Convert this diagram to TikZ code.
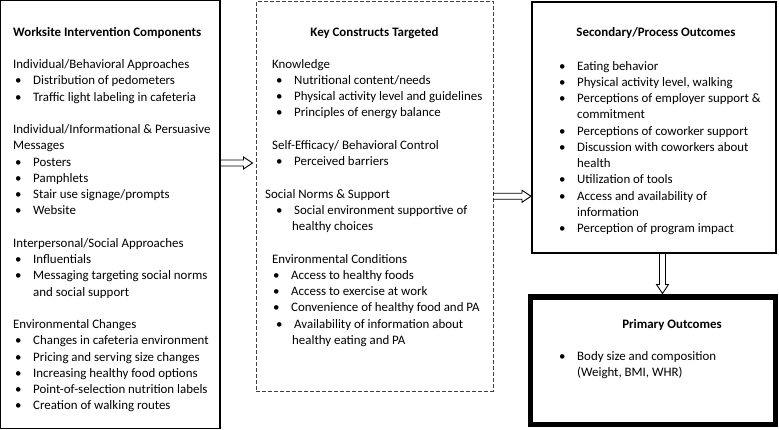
\documentclass[tikz,border=0pt]{standalone}
\usepackage{fontspec}
\setmainfont{Carlito}
\usetikzlibrary{calc}

\newcommand{\bul}{\makebox[18pt][l]{\textbullet}}

\tikzset{
  box/.style={draw, line width=1.1pt, inner sep=0pt, outer sep=0pt, anchor=north west},
  txt/.style={align=left, inner sep=0pt, anchor=base west, font=\fontsize{12.9}{16.25}\selectfont},
  head/.style={inner sep=0pt, anchor=base, font=\fontsize{12.9}{16.25}\selectfont\bfseries},
  harrow/.style={line width=0.9pt, to path={
      ($(\tikztostart)+(0,3pt)$) -- ($(\tikztotarget)+(-9pt,3pt)$) -- ($(\tikztotarget)+(-9pt,6pt)$)
      -- (\tikztotarget) -- ($(\tikztotarget)+(-9pt,-6pt)$) -- ($(\tikztotarget)+(-9pt,-3pt)$)
      -- ($(\tikztostart)+(0,-3pt)$)}},
  varrow/.style={line width=0.9pt, to path={
      ($(\tikztostart)+(-3pt,0)$) -- ($(\tikztotarget)+(-3pt,9pt)$) -- ($(\tikztotarget)+(-6pt,9pt)$)
      -- (\tikztotarget) -- ($(\tikztotarget)+(6pt,9pt)$) -- ($(\tikztotarget)+(3pt,9pt)$)
      -- ($(\tikztostart)+(3pt,0)$)}}
}

\begin{document}
\begin{tikzpicture}[x=1pt, y=-1pt]
\useasboundingbox (0,0) rectangle (779,429);

% boxes
\node[box, minimum width=219.4pt, minimum height=427.8pt] (w) at (0.6,0.6) {};
\node[box, line width=0.8pt, draw=black!75, dash pattern=on 4pt off 2pt,
      minimum width=237pt, minimum height=389.5pt] (k) at (256,1.5) {};
\node[box, line width=1.6pt, minimum width=244pt, minimum height=251pt] (s) at (532,2) {};
\node[box, line width=5.5pt, minimum width=245pt, minimum height=127.5pt] (p) at (530.5,297) {};

% intervention components (anchored at the last line)
\node[txt] (wt) at (13,409.75) {\textbf{Worksite Intervention Components}\\[16.25pt]
  Individual/Behavioral Approaches\\
  \hspace*{2pt}\bul Distribution of pedometers\\
  \hspace*{2pt}\bul Traffic light labeling in cafeteria\\[16.25pt]
  Individual/Informational \& Persuasive\\
  Messages\\
  \hspace*{2pt}\bul Posters\\
  \hspace*{2pt}\bul Pamphlets\\
  \hspace*{2pt}\bul Stair use signage/prompts\\
  \hspace*{2pt}\bul Website\\[16.25pt]
  Interpersonal/Social Approaches\\
  \hspace*{2pt}\bul Influentials\\
  \hspace*{2pt}\bul Messaging targeting social norms\\
  \hspace*{20pt}and social support\\[16.25pt]
  Environmental Changes\\
  \hspace*{2pt}\bul Changes in cafeteria environment\\
  \hspace*{2pt}\bul Pricing and serving size changes\\
  \hspace*{2pt}\bul Increasing healthy food options\\
  \hspace*{2pt}\bul Point-of-selection nutrition labels\\
  \hspace*{2pt}\bul Creation of walking routes};

% constructs
\node[head] (kh) at ([yshift=-34.5pt]k.north) {Key Constructs Targeted};
\node[txt] (kt) at (276,344.25) {\hspace*{-4pt}Knowledge\\
  \bul Nutritional content/needs\\
  \bul Physical activity level and guidelines\\
  \bul Principles of energy balance\\[16.25pt]
  \hspace*{-4pt}Self-Efficacy/ Behavioral Control\\
  \bul Perceived barriers\\[16.25pt]
  \hspace*{-11pt}Social Norms \& Support\\
  \bul Social environment supportive of\\
  \hspace*{16pt}healthy choices\\[16.25pt]
  \hspace*{-4pt}Environmental Conditions\\
  \hspace*{-3pt}\bul Access to healthy foods\\
  \hspace*{-3pt}\bul Access to exercise at work\\
  \hspace*{-3pt}\bul Convenience of healthy food and PA\\
  \bul Availability of information about\\
  \hspace*{16pt}healthy eating and PA};

% secondary outcomes
\node[head] (sh) at ([xshift=2pt, yshift=-34pt]s.north) {Secondary/Process Outcomes};
\node[txt] (st) at (559,232.5) {\bul Eating behavior\\
  \bul Physical activity level, walking\\
  \bul Perceptions of employer support \&\\
  \hspace*{18pt}commitment\\
  \bul Perceptions of coworker support\\
  \bul Discussion with coworkers about\\
  \hspace*{18pt}health\\
  \bul Utilization of tools\\
  \bul Access and availability of\\
  \hspace*{18pt}information\\
  \bul Perception of program impact};

% primary outcomes
\node[head] (ph) at ([xshift=19pt, yshift=-31.5pt]p.north) {Primary Outcomes};
\node[txt] (pt) at (559,376.25) {\bul Body size and composition\\
  \hspace*{18pt}(Weight, BMI, WHR)};

% arrows
\coordinate (a1s) at ([yshift=51.5pt]w.east);
\coordinate (a1e) at ($(a1s -| k.west)+(-3.5pt,0)$);
\coordinate (a2e) at ($(k.east -| s.west)+(-1pt,0)$);
\coordinate (a3s) at ([xshift=8.5pt]s.south);
\coordinate (a3e) at ($(a3s |- p.north)+(0,3.5pt)$);
\draw[harrow] (a1s) to (a1e);
\draw[harrow] (k.east) to (a2e);
\draw[varrow] (a3s) to (a3e);
\end{tikzpicture}
\end{document}
